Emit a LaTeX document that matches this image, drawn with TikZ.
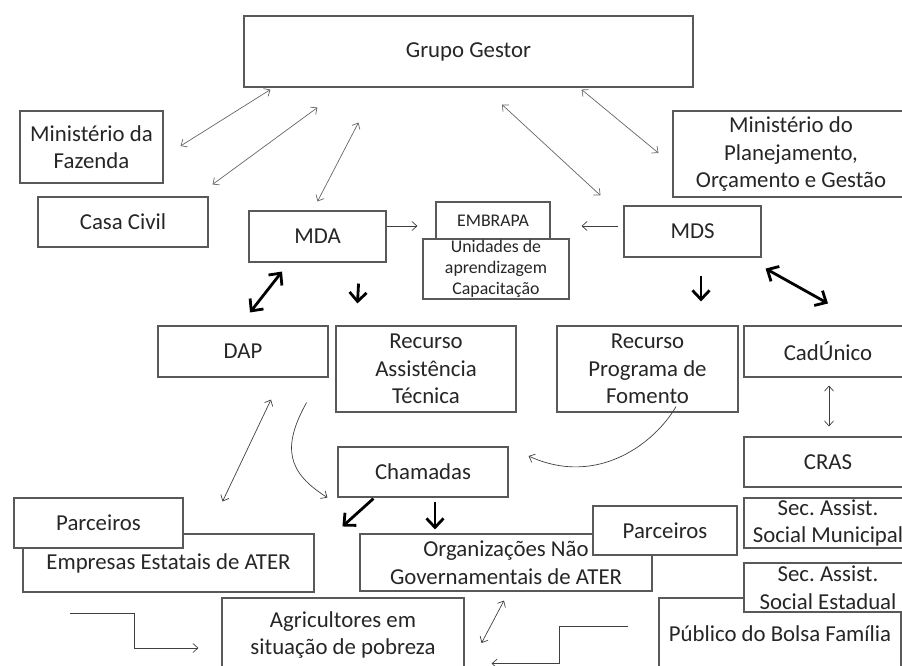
\documentclass[tikz,border=0pt]{standalone}
\usepackage{fontspec}
\setmainfont{Carlito}
\frenchspacing
\usetikzlibrary{arrows.meta,calc}

\begin{document}
\begin{tikzpicture}[x=1pt, y=-1pt,
		caixa/.style={draw=black!65, line width=1.1pt, fill=white, text=black!85, align=center,
			inner sep=0pt, font=\fontsize{22.8}{27.5}\selectfont},
		pequena/.style={caixa, font=\fontsize{17.8}{21}\selectfont},
		seta/.style={draw=black!75, line width=0.7pt, >={Straight Barb[length=5pt,width=9pt]}},
		cinza/.style={seta, draw=black!60},
		grossa/.style={draw=black, line width=2.8pt, >={Straight Barb[length=9pt,width=17pt]}}]
				\useasboundingbox (0,0) rectangle (902,665);
				\node[caixa, minimum width=449pt, minimum height=71pt] (GG) at (468.5,51.5) {Grupo Gestor};
				\node[caixa, minimum width=143pt, minimum height=72pt] (MF) at (91.5,147) {Ministério da\\Fazenda};
				\node[caixa, minimum width=170pt, minimum height=50pt] (CC) at (123,222) {Casa Civil};
				\node[caixa, minimum width=137pt, minimum height=51pt] (MDA) at (317.5,236.5) {MDA};
				\node[pequena, minimum width=114pt, minimum height=37pt] (EMB) at (493,220.5) {EMBRAPA};
				\node[pequena, minimum width=146pt, minimum height=60pt] (UNI) at (496,269) {Unidades de\\aprendizagem\\Capacitação};
				\node[caixa, minimum width=236pt, minimum height=86pt] (MPOG) at (791,154) {Ministério do\\Planejamento,\\Orçamento e Gestão};
				\node[caixa, minimum width=137pt, minimum height=51pt] (MDS) at (692.5,231.5) {MDS};
				\node[caixa, minimum width=170pt, minimum height=51pt] (DAP) at (243,351.5) {DAP};
				\node[caixa, minimum width=180pt, minimum height=86pt] (RAT) at (426,369) {Recurso\\Assistência\\Técnica};
				\node[caixa, minimum width=181pt, minimum height=86pt] (RPF) at (647.5,369) {Recurso\\Programa de\\Fomento};
				\node[caixa, minimum width=168pt, minimum height=51pt] (CAD) at (828,351.5) {CadÚnico};
				\node[caixa, minimum width=168pt, minimum height=50pt] (CRAS) at (828,462) {CRAS};
				\node[caixa, minimum width=170pt, minimum height=50pt] (CHA) at (423,472) {Chamadas};
				\node[caixa, minimum width=291pt, minimum height=58pt] (EMP) at (168.5,563) {Empresas Estatais de ATER};
				\node[caixa, minimum width=169pt, minimum height=50pt] (PARC1) at (98.5,523) {Parceiros};
				\node[caixa, minimum width=292pt, minimum height=57pt] (ONG) at (506,562.5) {Organizações Não\\Governamentais de ATER};
				\node[caixa, minimum width=144pt, minimum height=49pt] (PARC2) at (665,530.5) {Parceiros};
				\node[caixa, minimum width=168pt, minimum height=50pt] (SAM) at (828,523) {Sec. Assist.\\Social Municipal};
				\node[caixa, minimum width=242pt, minimum height=74pt] (AGR) at (343,635) {Agricultores em\\situação de pobreza};
				\node[caixa, minimum width=242pt, minimum height=72pt] (PBF) at (780,634) {Público do Bolsa Família};
				\node[caixa, minimum width=168pt, minimum height=49pt] (SAE) at (828,587.5) {Sec. Assist.\\Social Estadual};
				\draw[cinza, <->] ($(GG.south west)+(27,2)$) -- ($(MF.east)+(17,-1)$);
				\draw[cinza, <->] ($(GG.south west)+(74,20)$) -- ($(CC.north east)+(4,-12)$);
				\draw[cinza, <->] ($(GG.south west)+(115,35)$) -- ($(MDA.north)+(0,-9)$);
				\draw[cinza, <->] ($(GG.south)+(33.5,17)$) -- ($(MDS.north west)+(-23,-10)$);
				\draw[cinza, <->] ($(GG.south east)+(-112,2)$) -- ($(MPOG.west)+(-14,-1)$);
				\draw[seta, ->] ($(MDA.east)+(0,-10.5)$) -- ($(EMB.west)+(-18,5.5)$);
				\draw[seta, ->] ($(MDS.west)+(-5,-5.5)$) -- ($(EMB.east)+(31,5.5)$);
				\draw[grossa, <->] ($(MDA.south)+(-35.5,9)$) -- ($(DAP.north)+(7,-13)$);
				\draw[grossa, ->] ($(MDA.south east)+(-28,21)$) -- ($(RAT.north west)+(22,-22)$);
				\draw[grossa, ->] ($(MDS.south)+(8.5,18)$) -- ($(RPF.north)+(53.5,-24)$);
				\draw[grossa, <->] ($(MDS.south east)+(4,11)$) -- ($(CAD.north)+(0,-22)$);
				\draw[seta, <->] ($(CAD.south)+(1,8)$) -- ($(CRAS.north)+(1,-10)$);
				\draw[seta, <->] ($(DAP.south)+(28,22)$) -- ($(PARC1.north east)+(39,4)$);
				\draw[seta, ->] ($(DAP.south east)+(-22,25)$) .. controls +(-25,45) and +(-40,-25) .. ($(CHA.south west)+(-10,0)$);
				\draw[seta, ->] ($(RPF.south)+(28.5,-6)$) .. controls +(-20,35) and +(70,32) .. ($(CHA.east)+(20,-16)$);
				\draw[grossa, ->] ($(CHA.south west)+(36,1)$) -- ($(ONG.north west)+(-17,-7)$);
				\draw[grossa, ->] ($(CHA.south)+(12,4)$) -- ($(ONG.north)+(-71,-4)$);
				\draw[seta, <->] ($(ONG.south)+(-2,9)$) -- ($(AGR.east)+(17,8)$);
				\draw[seta, ->] ($(EMP.south west)+(48,21)$) -- ++(64,0) |- ($(AGR.west)+(-23,13)$);
				\draw[seta, ->] ($(PBF.west)+(-30,-8)$) -- ++(-69,0) |- ($(AGR.south east)+(27,-9)$);
			\end{tikzpicture}
\end{document}
